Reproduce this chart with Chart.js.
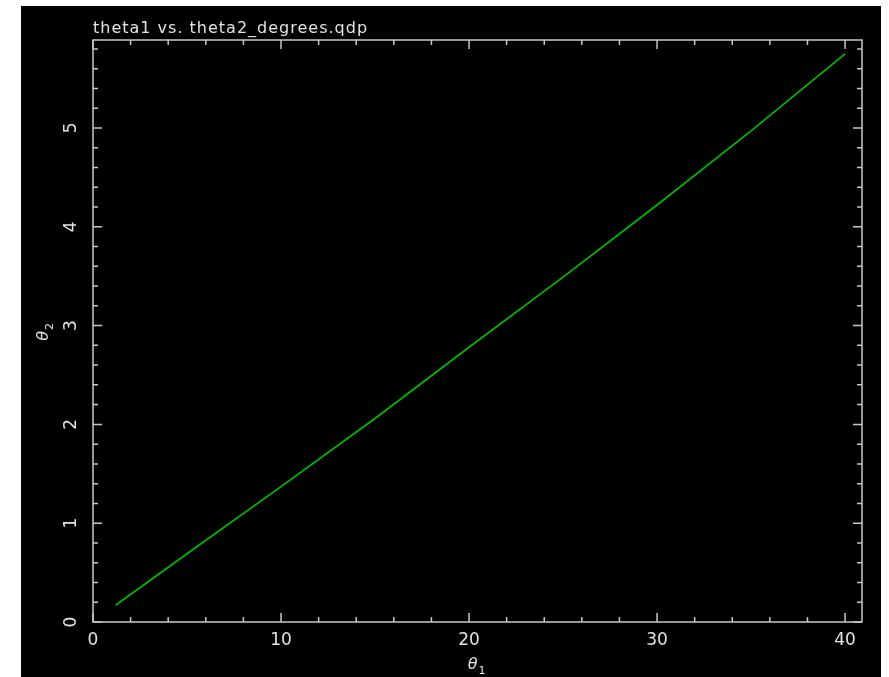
<!DOCTYPE html>
<html>
<head>
<meta charset="utf-8">
<script src="https://cdn.jsdelivr.net/npm/chart.js@4.4.1/dist/chart.umd.min.js"></script>
<style>
  html, body { margin: 0; padding: 0; background: #ffffff; }
  #wrap { position: absolute; left: 21px; top: 6px; width: 860px; height: 671px; background: #000000; }
  canvas { display: block; }
</style>
</head>
<body>
<div id="wrap"><canvas id="chart" width="860" height="671"></canvas></div>
<script>
// valores
const theta1 = [1.2, 5, 10, 15, 20, 25, 30, 35, 40];
const theta2 = [0.17, 0.69, 1.37, 2.06, 2.78, 3.49, 4.22, 4.97, 5.75];
const titulo = 'theta1 vs. theta2_degrees.qdp';

const ejeColor = '#c8c8c8';
const textoColor = '#e2e2e2';
const fuente = 'DejaVu Sans, sans-serif';

// marcos, ticks hacia dentro, etiquetas del eje y y titulos
const qdpPlugin = {
  id: 'qdp',
  afterDraw: (chart) => {
    const { ctx, chartArea: { top, bottom, left, right } } = chart;
    const xs = chart.scales.x, ys = chart.scales.y;
    ctx.save();
    ctx.strokeStyle = ejeColor;
    ctx.lineWidth = 1.5;
    ctx.strokeRect(left, top, right - left, bottom - top);

    ctx.beginPath();
    // x: mayores cada 10, menores cada 2
    for (let v = 0; v <= xs.max + 1e-9; v += 2) {
      const px = xs.getPixelForValue(v);
      const len = Math.abs(v % 10) < 1e-9 ? 9 : 5;
      ctx.moveTo(px, bottom); ctx.lineTo(px, bottom - len);
      ctx.moveTo(px, top); ctx.lineTo(px, top + len);
    }
    // y: mayores cada 1, menores cada 0.2
    for (let i = 0; i * 0.2 <= ys.max + 1e-9; i++) {
      const py = ys.getPixelForValue(i * 0.2);
      const len = i % 5 === 0 ? 9 : 5;
      ctx.moveTo(left, py); ctx.lineTo(left + len, py);
      ctx.moveTo(right, py); ctx.lineTo(right - len, py);
    }
    ctx.stroke();

    ctx.fillStyle = textoColor;
    // etiquetas y rotadas
    ctx.font = `17px ${fuente}`;
    ctx.textAlign = 'center';
    ctx.textBaseline = 'middle';
    ys.ticks.forEach(t => {
      const py = ys.getPixelForValue(t.value);
      ctx.save();
      ctx.translate(left - 21, py);
      ctx.rotate(-Math.PI / 2);
      ctx.fillText(String(t.value), 0, 0);
      ctx.restore();
    });

    // titulo
    ctx.font = `16px ${fuente}`;
    ctx.letterSpacing = '1px';
    ctx.textAlign = 'left';
    ctx.textBaseline = 'alphabetic';
    ctx.fillText(titulo, left, top - 7);
    ctx.letterSpacing = '0px';

    // theta_1
    const cx = (left + right) / 2;
    ctx.font = `italic 16px ${fuente}`;
    ctx.textAlign = 'right';
    ctx.fillText('θ', cx, bottom + 47);
    ctx.font = `11px ${fuente}`;
    ctx.textAlign = 'left';
    ctx.fillText('1', cx + 1, bottom + 52);

    // theta_2
    ctx.save();
    ctx.translate(22, (top + bottom) / 2);
    ctx.rotate(-Math.PI / 2);
    ctx.font = `italic 16px ${fuente}`;
    ctx.textAlign = 'right';
    ctx.fillText('θ', 0, 5);
    ctx.font = `11px ${fuente}`;
    ctx.textAlign = 'left';
    ctx.fillText('2', 1, 10);
    ctx.restore();

    ctx.restore();
  }
};

new Chart(document.getElementById('chart'), {
  type: 'scatter',
  data: {
    datasets: [{
      data: theta1.map((x, i) => ({ x: x, y: theta2[i] })),
      showLine: true,
      borderColor: '#00b800',
      borderWidth: 1.8,
      pointRadius: 0,
      tension: 0
    }]
  },
  plugins: [qdpPlugin],
  options: {
    responsive: false,
    animation: false,
    layout: { padding: { top: 34, right: 19, bottom: 0, left: 0 } },
    plugins: {
      legend: { display: false },
      tooltip: { enabled: false }
    },
    scales: {
      x: {
        type: 'linear',
        min: 0,
        max: 40.9,
        border: { display: false },
        grid: { display: false, drawTicks: false },
        ticks: {
          stepSize: 10,
          includeBounds: false,
          color: textoColor,
          padding: 8,
          maxRotation: 0,
          font: { family: fuente, size: 17 }
        },
        afterFit: (s) => { s.height = 55; }
      },
      y: {
        type: 'linear',
        min: 0,
        max: 5.89,
        border: { display: false },
        grid: { display: false, drawTicks: false },
        ticks: {
          stepSize: 1,
          includeBounds: false,
          display: false
        },
        afterFit: (s) => { s.width = 72; }
      }
    }
  }
});
</script>
</body>
</html>
